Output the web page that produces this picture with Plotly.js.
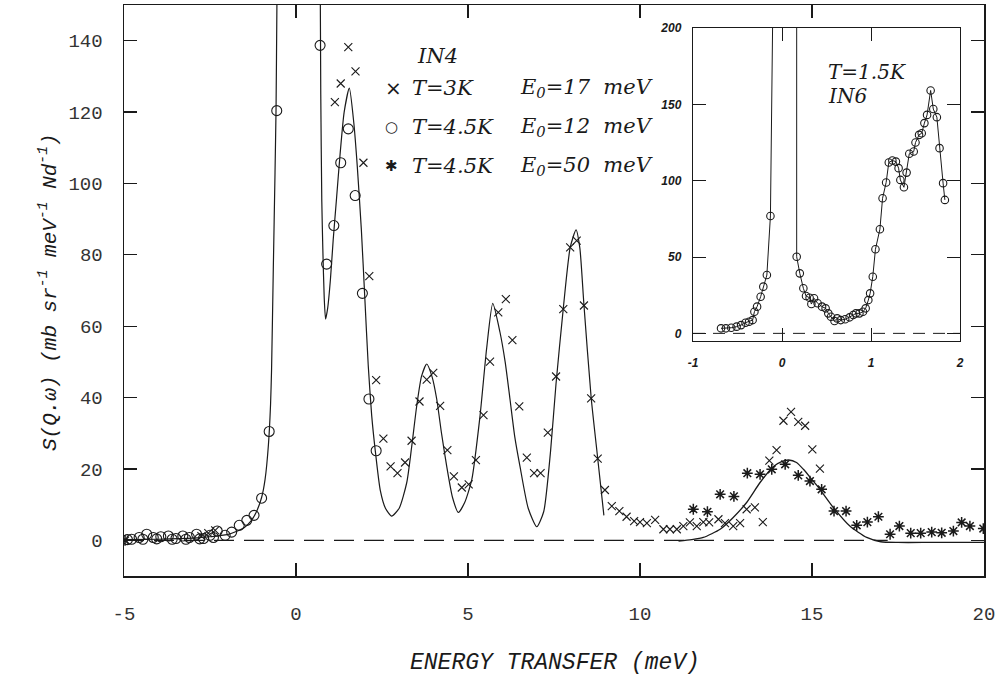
<!DOCTYPE html>
<html><head><meta charset="utf-8">
<script src="https://cdn.plot.ly/plotly-3.0.1.min.js"></script>
<style>html,body{margin:0;padding:0;background:#fff}</style>
</head><body><div id="chart" style="width:997px;height:682px"></div>
<script>
// ---------- main panel (IN4) ----------
const circX = [-4.78,-4.9,-4.56,-4.45,-4.34,-4.15,-4.05,-3.93,-3.71,-3.6,-3.49,-3.29,-3.2,-3.10,-2.89,-2.8,-2.69,-2.50,-2.4,-2.29,-2.06,-1.87,-1.65,-1.43,-1.22,-1.00,-0.78,-0.56,0.70,0.89,1.10,1.30,1.52,1.72,1.93,2.12,2.33];
const circY = [0.3,0.2,0.8,0.3,1.7,0.8,0.4,1.0,1.2,0.3,0.5,1.2,0.3,0.8,1.7,0.4,0.5,1.4,0.8,2.6,1.4,2.3,4.2,5.6,7.0,11.8,30.5,120.4,138.7,77.4,88.2,105.8,115.3,96.6,69.2,39.6,25.1];

const crossX = [-2.75,-2.55,-2.35,1.13,1.30,1.52,1.73,1.96,2.13,2.33,2.54,2.75,2.95,3.17,3.36,3.59,3.80,3.99,4.19,4.40,4.59,4.82,5.02,5.23,5.45,5.64,5.88,6.10,6.29,6.49,6.71,6.92,7.11,7.32,7.56,7.77,7.97,8.16,8.37,8.58,8.77,8.98,9.18,9.40,9.61,9.83,10.0,10.2,10.44,10.68,10.87,11.07,11.26,11.45,11.65,11.84,12.01,12.28,12.47,12.71,12.91,13.10,13.34,13.57,13.76,13.97,14.17,14.39,14.60,14.80,15.01,15.23];
const crossY = [1.2,2.0,2.8,122.8,128,138.2,131.4,105.8,74.0,44.9,28.5,20.7,18.8,21.8,27.9,38.9,45.0,46.9,37.7,25.3,17.9,14.8,15.7,22.5,35.1,50.1,63.9,67.6,56.1,37.5,23.2,18.8,18.8,30.2,45.9,64.8,82.1,84.0,65.8,39.8,22.9,14.1,9.6,8.2,6.6,5.4,5.1,4.8,5.7,3.1,3.1,3.1,4.0,5.0,4.0,5.1,5.0,5.9,4.8,4.0,4.8,8.7,9.2,5.1,22.3,25.3,33.5,36.0,33.2,32.1,25.5,20.1];

const starX = [-4.97,11.55,11.96,12.33,12.73,13.12,13.49,13.83,14.22,14.60,14.94,15.28,15.64,15.99,16.30,16.61,16.93,17.27,17.54,17.87,18.16,18.48,18.77,19.11,19.35,19.59,19.98];
const starY = [0,8.7,8.0,12.9,12.3,18.8,18.5,19.9,21.3,18.2,16.6,14.3,8.2,8.2,4.2,5.1,6.6,1.7,4.0,2.0,2.0,2.3,2.1,2.6,5.0,4.0,3.3];

// fitted model curve
const fitLeftX = [-5,-4,-3,-2.5,-2.0,-1.7,-1.5,-1.3,-1.15,-1.0,-0.9,-0.8,-0.74,-0.71,-0.66,-0.61,-0.58,-0.555,-0.54];
const fitLeftY = [0.2,0.3,0.6,1.0,1.6,2.6,3.6,5.5,8.0,12,17,27,38,48,76,103,121,150,165];
const fitRightX = [0.70,0.72,0.75,0.78,0.82,0.86,0.92,1.00,1.08,1.18,1.28,1.40,1.55,1.68,1.78,1.90,2.00,2.10,2.20,2.30,2.45,2.60,2.78,3.00,3.22,3.36,3.51,3.65,3.80,3.95,4.09,4.23,4.38,4.55,4.72,4.90,5.11,5.35,5.54,5.72,5.93,6.08,6.22,6.36,6.51,6.75,7.00,7.20,7.40,7.56,7.77,7.97,8.14,8.25,8.37,8.58,8.77,8.95];
const fitRightY = [165,125,95,81.6,68,62,65,73,84,96,108,120,126.7,117,105,87,68,49,35,25.5,14,9,6.8,9,16.2,26,37.7,46,49.4,46,39.6,30,20.8,12,7.8,10.5,17,34.9,53.6,66.4,58.3,50,39.6,29,20.8,9,3.8,8,25,44,65,82,87,82,66,40,23,7];
const fit50X = [11.12,11.5,11.84,12.33,12.71,13.10,13.49,13.88,14.10,14.32,14.55,14.75,15.00,15.23,15.62,16.10,16.59,17.0,17.5,18.5,20];
const fit50Y = [-0.2,0.2,0.8,3.1,6.4,10.6,16.2,20.7,22.0,22.5,21.8,19.9,17.0,14.3,9.2,4.0,0.8,-0.4,-0.6,-0.6,-0.6];

// ---------- inset (IN6) ----------
const insetLeftX = [-0.685,-0.63,-0.57,-0.51,-0.46,-0.41,-0.37,-0.33,-0.31,-0.28,-0.24,-0.21,-0.17,-0.13];
const insetLeftY = [3.3,3.3,3.7,4.4,5.4,7.0,7.6,8.7,14.2,17.5,24,30.6,38.2,76.9];
const insetRightX = [0.165,0.20,0.24,0.27,0.31,0.33,0.36,0.40,0.45,0.49,0.52,0.55,0.59,0.62,0.66,0.71,0.76,0.80,0.83,0.87,0.91,0.94,0.97,0.99,1.02,1.05,1.10,1.13,1.17,1.20,1.24,1.28,1.31,1.33,1.37,1.40,1.43,1.48,1.50,1.54,1.57,1.60,1.63,1.67,1.70,1.74,1.77,1.81,1.83];
const insetRightY = [50.2,39.3,29.5,24.5,23.3,19.2,23.0,19.7,17.5,16.4,13.1,10.9,8.1,9.8,8.7,9.2,10.5,12.0,13.1,13.1,14.2,16.4,21.8,26.2,37.1,55.1,68.2,88.5,98.8,111.9,113.2,112.5,108.2,100.5,95.7,105.3,117.6,119.1,125,130,131.1,137.7,143.1,159.1,146.9,141.6,121.3,98.4,87.4];
const insetLineTopLeft = [-0.10, 230];   // elastic line leaving the top
const insetLineTopRight = [0.165, 230];

// tick labels
const mainXTicks = [-5,0,5,10,15,20];
const mainYTicks = [0,20,40,60,80,100,120,140];
const insetXTicks = [-1,0,1,2];
const insetYTicks = [0,50,100,150,200];

const ink = '#1a1a1a';
const traces = [
  {x: fitLeftX, y: fitLeftY, mode:'lines', line:{color:ink,width:1.2,shape:'spline',smoothing:0.5}, xaxis:'x', yaxis:'y', hoverinfo:'skip'},
  {x: fitRightX, y: fitRightY, mode:'lines', line:{color:ink,width:1.2,shape:'spline',smoothing:0.6}, xaxis:'x', yaxis:'y', hoverinfo:'skip'},
  {x: fit50X, y: fit50Y, mode:'lines', line:{color:ink,width:1.3,shape:'spline',smoothing:0.6}, xaxis:'x', yaxis:'y'},
  {x: circX, y: circY, mode:'markers', marker:{symbol:'circle-open', size:10, color:ink, line:{width:1.1}}, xaxis:'x', yaxis:'y'},
  {x: crossX, y: crossY, mode:'markers', marker:{symbol:'x-thin-open', size:8, color:ink, line:{width:1.1}}, xaxis:'x', yaxis:'y'},
  {x: starX, y: starY, mode:'markers', marker:{symbol:'asterisk-open', size:9, color:ink, line:{width:1.5}}, xaxis:'x', yaxis:'y'},
  // inset
  {x: insetLeftX.concat([insetLineTopLeft[0]]), y: insetLeftY.concat([insetLineTopLeft[1]]), mode:'lines', line:{color:ink,width:1}, xaxis:'x2', yaxis:'y2'},
  {x: [insetLineTopRight[0]].concat(insetRightX), y: [insetLineTopRight[1]].concat(insetRightY), mode:'lines', line:{color:ink,width:1}, xaxis:'x2', yaxis:'y2'},
  {x: insetLeftX.concat(insetRightX), y: insetLeftY.concat(insetRightY), mode:'markers', marker:{symbol:'circle-open', size:7.5, color:ink, line:{width:1.1}}, xaxis:'x2', yaxis:'y2'}
];

// pixel -> paper helpers (plot area 124..984 x 5..576)
const L=124, R=984, T=5, B=576;
const px = v => (v-L)/(R-L);
const py = v => (B-v)/(B-T);

const serif = {family:'DejaVu Serif', size:21, color:ink, style:'italic'};
const mono = {family:'Liberation Mono', size:23, color:ink, style:'italic'};
const ann = (text, x, y, opts) => Object.assign({text, x:px(x), y:py(y), xref:'paper', yref:'paper', xanchor:'left', yanchor:'middle', showarrow:false, font:serif}, opts||{});

const annotations = [
  ann('IN4', 415, 56),
  ann('\u00d7', 383, 88, {font:{family:'DejaVu Sans', size:20, color:ink}}),
  ann('T=3K', 410, 88),
  ann('E<sub>0</sub>=17\u00a0 meV', 518, 88),
  ann('\u25cb', 383, 127, {font:{family:'DejaVu Sans', size:15, color:ink}}),
  ann('T=4.5K', 410, 127),
  ann('E<sub>0</sub>=12\u00a0 meV', 518, 127),
  ann('\u2731', 383, 166, {font:{family:'DejaVu Sans', size:15, color:ink}}),
  ann('T=4.5K', 410, 166),
  ann('E<sub>0</sub>=50\u00a0 meV', 518, 166),
  ann('T=1.5K', 826, 72, {font:{family:'DejaVu Serif', size:20, color:ink, style:'italic'}}),
  ann('IN6', 826, 96, {font:{family:'DejaVu Serif', size:20, color:ink, style:'italic'}}),
  {text:'ENERGY TRANSFER (meV)', x:px(555), y:py(663), xref:'paper', yref:'paper', xanchor:'center', yanchor:'middle', showarrow:false, font:mono},
  {text:'S(Q.\u03c9) (mb sr<sup>-1</sup> meV<sup>-1</sup> Nd<sup>-1</sup>)', x:px(48), y:py(292), xref:'paper', yref:'paper', xanchor:'center', yanchor:'middle', textangle:-90, showarrow:false, font:{family:'Liberation Mono', size:21, color:ink, style:'italic'}}
];

const axBase = {showgrid:false, zeroline:false, showline:true, linecolor:ink, mirror:'ticks', ticks:'inside', tickcolor:ink};
const layout = {
  width:997, height:682,
  margin:{l:L, r:997-R, t:T, b:682-B, pad:0},
  paper_bgcolor:'#fff', plot_bgcolor:'#fff',
  showlegend:false,
  xaxis: Object.assign({}, axBase, {range:[-5,20], tickvals:mainXTicks, ticktext:mainXTicks.map(String), ticklen:13, linewidth:1.5, tickwidth:1.2,
    tickfont:{family:'Liberation Mono', size:19, color:'#333'}, ticklabelstandoff:20, domain:[0,1], anchor:'y'}),
  yaxis: Object.assign({}, axBase, {range:[-10,150], tickvals:mainYTicks, ticktext:mainYTicks.map(String), ticklen:13, linewidth:1.5, tickwidth:1.2,
    tickfont:{family:'Liberation Mono', size:19, color:'#333'}, ticklabelstandoff:16, domain:[0,1], anchor:'x'}),
  xaxis2: Object.assign({}, axBase, {range:[-1,2], tickvals:insetXTicks, ticktext:insetXTicks.map(String), ticklen:13, linewidth:1.2, tickwidth:1,
    tickfont:{family:'Liberation Sans', size:12, color:ink, style:'italic', weight:700}, ticklabelstandoff:10,
    domain:[px(693), px(960)], anchor:'y2'}),
  yaxis2: Object.assign({}, axBase, {range:[-5,200], tickvals:insetYTicks, ticktext:insetYTicks.map(String), ticklen:13, linewidth:1.2, tickwidth:1,
    tickfont:{family:'Liberation Sans', size:12, color:ink, style:'italic', weight:700}, ticklabelstandoff:8,
    domain:[py(341), py(28)], anchor:'x2'}),
  shapes:[
    {type:'line', xref:'x', yref:'y', x0:-5, x1:17.2, y0:0, y1:0, line:{color:ink, width:1.2, dash:'20px,10px'}},
    {type:'line', xref:'x2', yref:'y2', x0:-1, x1:2, y0:0, y1:0, line:{color:ink, width:1, dash:'12px,8px'}}
  ],
  annotations
};

Plotly.newPlot('chart', traces, layout, {staticPlot:true, displayModeBar:false});
</script></body></html>
